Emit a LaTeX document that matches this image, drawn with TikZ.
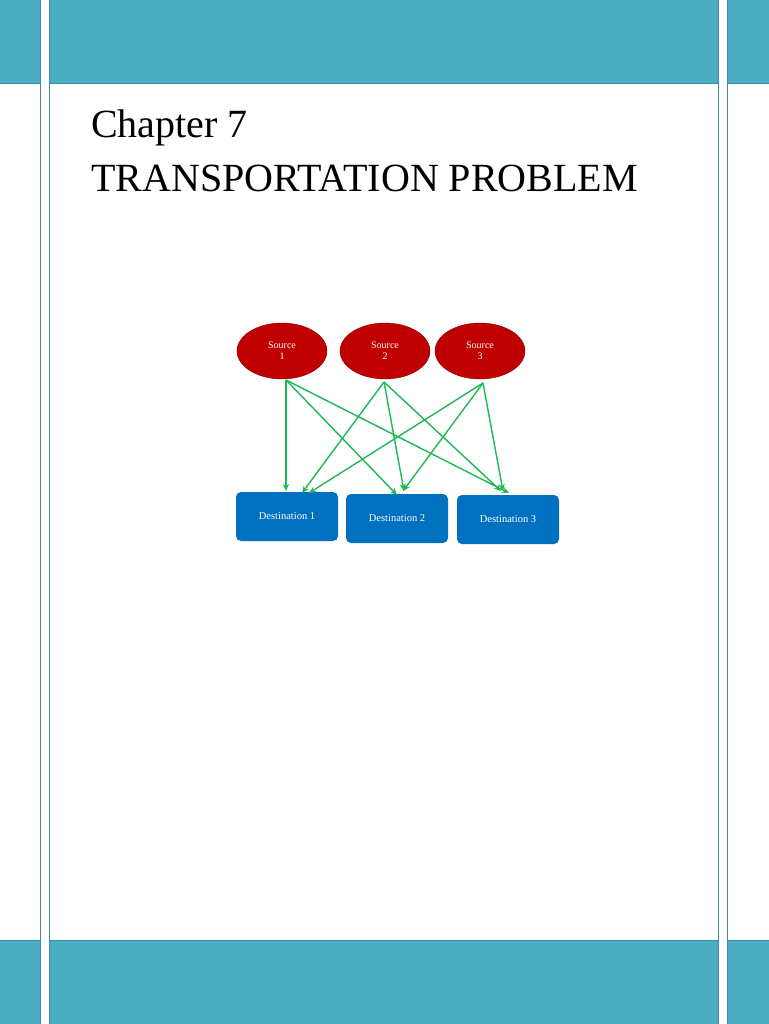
\documentclass[tikz,border=0pt]{standalone}
\usepackage{fontspec}
\setmainfont{Liberation Serif}
\usetikzlibrary{shapes.geometric,arrows.meta}
\definecolor{bar}{HTML}{4BACC6}
\definecolor{barline}{HTML}{3B8FAA}
\definecolor{src}{HTML}{C00000}
\definecolor{dst}{HTML}{0070C0}
\definecolor{arr}{HTML}{1DB954}
\tikzset{
 srcnode/.style={ellipse,fill=src,draw=src!70!black,minimum width=90pt,minimum height=56pt,text=white,font=\fontsize{10}{11}\selectfont,align=center},
 dstnode/.style={rectangle,rounded corners=5pt,fill=dst,minimum width=102pt,minimum height=49pt,text=white,font=\fontsize{10.5}{12}\selectfont},
 flow/.style={draw=arr,line width=1.4pt,-{Stealth[length=7pt,width=6pt]}},
 barbox/.style={fill=bar,draw=barline,line width=0.8pt}
}
\begin{document}
\begin{tikzpicture}[x=1pt,y=-1pt]
\useasboundingbox (0,0) rectangle (768,1024);
\fill[white] (0,0) rectangle (768,1024);
% panels
\draw[barline,line width=0.8pt] (-1,-1) rectangle (40,1025);
\draw[barline,line width=0.8pt] (49,-1) rectangle (718,1025);
\draw[barline,line width=0.8pt] (727,-1) rectangle (769,1025);
\draw[barbox] (-1,-1) rectangle (40,83);
\draw[barbox] (49,-1) rectangle (718,83);
\draw[barbox] (727,-1) rectangle (769,83);
\draw[barbox] (-1,940) rectangle (40,1025);
\draw[barbox] (49,940) rectangle (718,1025);
\draw[barbox] (727,940) rectangle (769,1025);
% title
\node[anchor=base west,inner sep=0,font=\fontsize{40}{44}\selectfont] (t1) at (91,138) {Chapter 7};
\node[anchor=base west,inner sep=0,font=\fontsize{40}{44}\selectfont] (t2) at (91,192) {TRANSPORTATION PROBLEM};
% nodes
\node[srcnode] (s1) at (282,351) {Source\\1};
\node[srcnode] (s2) at (385,351) {Source\\2};
\node[srcnode] (s3) at (480,351) {Source\\3};
\node[dstnode] (d1) at (287,516.5) {Destination 1};
\node[dstnode] (d2) at (397,518.5) {Destination 2};
\node[dstnode] (d3) at (508,519.5) {Destination 3};
% end points
\coordinate (o1) at (286,380);
\coordinate (o2) at (384,382);
\coordinate (o3) at (483,383);
\coordinate (a11) at (286,491);
\coordinate (a12) at (397,495);
\coordinate (a13) at (509,493);
\coordinate (a21) at (302,493);
\coordinate (a22) at (404,491);
\coordinate (a23) at (501,491);
\coordinate (a31) at (309,493);
\coordinate (a32) at (403,491);
\coordinate (a33) at (503,491);
\draw[flow] (o1) -- (a11);
\draw[flow] (o1) -- (a12);
\draw[flow] (o1) -- (a13);
\draw[flow] (o2) -- (a21);
\draw[flow] (o2) -- (a22);
\draw[flow] (o2) -- (a23);
\draw[flow] (o3) -- (a31);
\draw[flow] (o3) -- (a32);
\draw[flow] (o3) -- (a33);
\end{tikzpicture}
\end{document}
